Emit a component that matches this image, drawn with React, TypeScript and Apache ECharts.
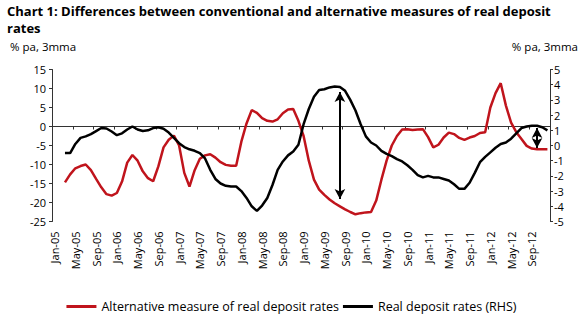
import React, { useEffect, useRef } from "react";
import * as echarts from "echarts";

const MONTHS = ["Jan", "Feb", "Mar", "Apr", "May", "Jun", "Jul", "Aug", "Sep", "Oct", "Nov", "Dec"];
const YEARS = ["05", "06", "07", "08", "09", "10", "11", "12"];
const categories: string[] = [];
YEARS.forEach((y) => MONTHS.forEach((m) => categories.push(`${m}-${y}`)));

// Alternative measure of real deposit rates (left axis), Jan-05 .. Dec-12
const alternative: (number | null)[] = [
  null, null, -14.7, -12.6, -11, -10.4, -10, -11.5, -13.8, -16, -17.8, -18.2,
  -17.5, -14.5, -9.5, -7.5, -9, -11.8, -13.6, -14.4, -10.5, -5.5, -3.5, -2.4,
  -5, -12.2, -15.8, -11.5, -8.5, -7.6, -7.3, -8.2, -9.4, -10.1, -10.3, -10.3,
  -4, 0.8, 4.3, 3.6, 2.2, 1.5, 1.3, 1.9, 3.5, 4.5, 4.6, 1.5,
  -2.5, -9, -14, -16.6, -18, -19.2, -20.2, -21, -21.8, -22.5, -23.1, -22.8,
  -22.6, -22.5, -19.5, -14, -9, -5, -2.5, -0.8, -0.7, -0.9, -0.8, -0.7,
  -2.8, -5.5, -4.8, -2.9, -1.6, -2.0, -3, -3.5, -2.9, -2.5, -1.7, -1.5,
  5, 8.8, 11.4, 5.5, 1.0, -1.5, -3.3, -5.1, -5.8, -6.0, -6.0, -6.0,
];

// Real deposit rates (right axis), Jan-05 .. Dec-12
const realRates: (number | null)[] = [
  null, null, -0.5, -0.5, 0.1, 0.5, 0.6, 0.75, 0.95, 1.15, 1.12, 0.92,
  0.68, 0.8, 1.05, 1.25, 1.05, 0.95, 1.0, 1.15, 1.2, 1.1, 0.85, 0.5,
  0.15, -0.1, -0.25, -0.35, -0.5, -0.85, -1.6, -2.2, -2.5, -2.65, -2.7, -2.7,
  -3.0, -3.45, -4.0, -4.3, -3.95, -3.45, -2.6, -1.6, -1.05, -0.65, -0.4, 0.05,
  1.4, 2.4, 3.2, 3.65, 3.7, 3.82, 3.88, 3.85, 3.6, 3.0, 2.3, 1.4,
  0.6, 0.2, 0.0, -0.35, -0.55, -0.7, -0.9, -1.05, -1.3, -1.6, -1.95, -2.1,
  -2.0, -2.1, -2.1, -2.2, -2.3, -2.55, -2.85, -2.85, -2.45, -1.8, -1.1, -0.75,
  -0.45, -0.15, 0.1, 0.2, 0.45, 0.8, 1.15, 1.25, 1.3, 1.3, 1.2, 1.0,
];

// Double-headed arrows (right-axis values)
const arrow1 = { month: "Aug-09", from: 3.52, to: -3.52 };
const arrow2 = { month: "Oct-12", from: 1.15, to: -0.16 };

const TITLE_LINE1 = "Chart 1: Differences between conventional and alternative measures of real deposit";
const TITLE_LINE2 = "rates";
const UNIT = "% pa, 3mma";

const FONT = "'Open Sans', 'Noto Sans', sans-serif";

export default function App() {
  const ref = useRef<HTMLDivElement>(null);
  useEffect(() => {
    if (!ref.current) return;
    const chart = echarts.init(ref.current, null, { renderer: "svg" });
    const titleStyle = { fontFamily: FONT, fontSize: 13, fontWeight: "bold", fill: "#000" };
    chart.setOption({
      animation: false,
      backgroundColor: "#fff",
      textStyle: { fontFamily: FONT, color: "#000" },
      graphic: [
        { type: "text", left: 7, top: 4, style: { text: TITLE_LINE1, ...titleStyle } },
        { type: "text", left: 7, top: 21, style: { text: TITLE_LINE2, ...titleStyle } },
        { type: "text", left: 10, top: 40, style: { text: UNIT, fontFamily: FONT, fontSize: 11.5, fill: "#000" } },
        { type: "text", right: 5, top: 40, style: { text: UNIT, fontFamily: FONT, fontSize: 11.5, fill: "#000" } },
      ],
      grid: { left: 52, right: 33, top: 69.5, bottom: 102.5, containLabel: false },
      legend: {
        bottom: 6,
        left: "center",
        itemWidth: 30,
        itemHeight: 3,
        itemGap: 4,
        icon: "rect",
        textStyle: { fontFamily: FONT, fontSize: 12.5, color: "#000" },
        data: ["Alternative measure of real deposit rates", "Real deposit rates (RHS)"],
      },
      xAxis: [
        {
          type: "category",
          data: categories,
          boundaryGap: true,
          position: "bottom",
          axisLine: { show: true, onZero: true, onZeroAxisIndex: 0, lineStyle: { color: "#333", width: 1 } },
          axisTick: { show: true, interval: 3, length: 3, lineStyle: { color: "#333" } },
          axisLabel: { show: false },
          splitLine: { show: false },
        },
        {
          type: "category",
          data: categories,
          boundaryGap: true,
          position: "bottom",
          axisLine: { show: false, onZero: false },
          axisTick: { show: false },
          axisLabel: { show: true, interval: 3, rotate: 90, margin: 10, fontFamily: FONT, fontSize: 11, color: "#000" },
          splitLine: { show: false },
        },
      ],
      yAxis: [
        {
          type: "value",
          min: -25,
          max: 15,
          interval: 5,
          position: "left",
          axisLine: { show: true, lineStyle: { color: "#333" } },
          axisTick: { show: true, length: 3, lineStyle: { color: "#333" } },
          axisLabel: { margin: 6, fontFamily: FONT, fontSize: 11, color: "#000" },
          splitLine: { show: false },
        },
        {
          type: "value",
          min: -5,
          max: 5,
          interval: 1,
          position: "right",
          axisLine: { show: true, lineStyle: { color: "#333" } },
          axisTick: { show: true, length: 3, lineStyle: { color: "#333" } },
          axisLabel: { margin: 4, fontFamily: FONT, fontSize: 11, color: "#000" },
          splitLine: { show: false },
        },
      ],
      series: [
        {
          name: "Alternative measure of real deposit rates",
          type: "line",
          xAxisIndex: 0,
          yAxisIndex: 0,
          data: alternative,
          symbol: "none",
          color: "#C0141C",
          lineStyle: { width: 2.5, color: "#C0141C" },
        },
        {
          name: "Real deposit rates (RHS)",
          type: "line",
          xAxisIndex: 0,
          yAxisIndex: 1,
          data: realRates,
          symbol: "none",
          color: "#000",
          lineStyle: { width: 2.5, color: "#000" },
          markLine: {
            silent: true,
            symbol: ["arrow", "arrow"],
            symbolSize: [8, 10],
            label: { show: false },
            lineStyle: { type: "solid", color: "#000", width: 2 },
            data: [
              [{ coord: [arrow1.month, arrow1.from] }, { coord: [arrow1.month, arrow1.to] }],
              [{ coord: [arrow2.month, arrow2.from] }, { coord: [arrow2.month, arrow2.to] }],
            ],
          },
        },
      ],
    });
    return () => chart.dispose();
  }, []);
  return <div ref={ref} style={{ width: 583, height: 324, position: "absolute", left: 0, top: 0 }} />;
}
